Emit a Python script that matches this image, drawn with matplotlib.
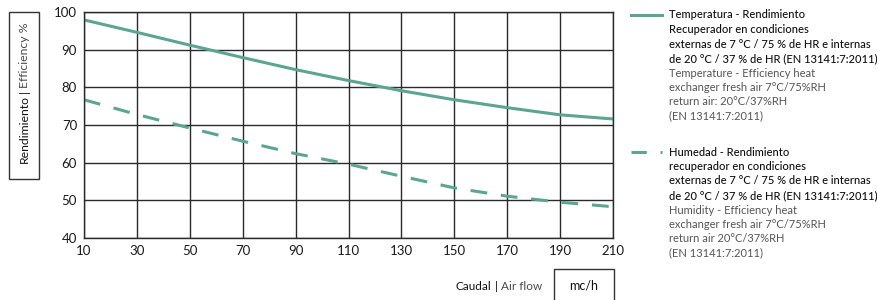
import matplotlib
matplotlib.use('Agg')
import matplotlib.pyplot as plt
from matplotlib.patches import Rectangle
from matplotlib.lines import Line2D

plt.rcParams['font.family'] = ['Lato', 'DejaVu Sans']

# air flow (mc/h) and efficiency values
airflow = [10, 30, 50, 70, 90, 110, 130, 150, 170, 190, 210]
temp_eff = [97.9, 94.6, 91.2, 87.9, 84.7, 81.8, 79.1, 76.7, 74.6, 72.7, 71.6]
hum_eff = [76.7, 72.8, 69.2, 65.7, 62.4, 59.6, 56.4, 53.3, 51.1, 49.5, 48.3]

xticks = [10, 30, 50, 70, 90, 110, 130, 150, 170, 190, 210]
yticks = [40, 50, 60, 70, 80, 90, 100]

teal = '#5ba592'
grid_col = '#2a2a2a'
text_col = '#1a1a1a'
light_col = '#4a4a4a'

W, H = 877, 300
fig = plt.figure(figsize=(W / 100, H / 100), dpi=100)

def fx(px):
    return px / W

def fy(py):
    return 1 - py / H

ax = fig.add_axes([fx(84), fy(238), fx(613) - fx(84), fy(12) - fy(238)])
ax.plot(airflow, temp_eff, color=teal, lw=2.2, solid_capstyle='butt')
ax.plot(airflow, hum_eff, color=teal, lw=2.2, dashes=(5.5, 4.5))
ax.set_xlim(10, 210)
ax.set_ylim(40, 100)
ax.set_xticks(xticks)
ax.set_yticks(yticks)
ax.grid(True, color=grid_col, lw=1)
ax.set_axisbelow(True)
for s in ax.spines.values():
    s.set_color(grid_col)
    s.set_linewidth(1)
ax.tick_params(length=0, labelsize=9.5, colors=text_col, pad=5)

renderer = fig.canvas.get_renderer()

def chain(pieces, start, fixed, vertical, size):
    # place text pieces one after another, measuring each
    pos = start
    for txt, weight, col, gap in pieces:
        if vertical:
            t = fig.text(fx(fixed), fy(pos), txt, rotation=90, ha='center', va='bottom',
                         fontsize=size, fontweight=weight, color=col)
            ext = t.get_window_extent(renderer)
            pos -= ext.height + gap
        else:
            t = fig.text(fx(pos), fy(fixed), txt, ha='left', va='center',
                         fontsize=size, fontweight=weight, color=col)
            ext = t.get_window_extent(renderer)
            pos += ext.width + gap

# y label inside a box
fig.patches.append(Rectangle((fx(9), fy(179)), fx(39) - fx(9), fy(12) - fy(179),
                             transform=fig.transFigure, fill=False,
                             edgecolor='#333333', lw=1))
chain([('Rendimiento', 'normal', '#111111', 2),
       ('|', 'normal', text_col, 2),
       ('Efficiency %', 'normal', light_col, 0)],
      163, 24, True, 8.8)

# x label with unit box
chain([('Caudal', 'normal', '#111111', 3),
       ('|', 'normal', text_col, 3),
       ('Air flow', 'normal', light_col, 0)],
      456, 286, False, 8.5)
fig.patches.append(Rectangle((fx(554), fy(301)), fx(614) - fx(554), fy(269) - fy(301),
                             transform=fig.transFigure, fill=False,
                             edgecolor='#333333', lw=1, clip_on=False))
fig.text(fx(584), fy(286), 'mc/h', ha='center', va='center',
         fontsize=9, fontweight='normal', color='#111111')

# legend
def legend_block(y0, dashed, bold_lines, light_lines):
    ln = Line2D([fx(631), fx(662)], [fy(y0), fy(y0)], transform=fig.transFigure,
                color=teal, lw=2.2)
    if dashed:
        ln.set_dashes((5, 4.5))
    fig.lines.append(ln)
    y = y0
    for t in bold_lines:
        fig.text(fx(669), fy(y), t, ha='left', va='center', fontsize=8,
                 fontweight='medium', color='#111111')
        y += 14.5
    for t in light_lines:
        fig.text(fx(669), fy(y), t, ha='left', va='center', fontsize=8,
                 fontweight='normal', color='#555555')
        y += 14.3

legend_block(15, False,
             ['Temperatura - Rendimiento',
              'Recuperador en condiciones',
              'externas de 7 °C / 75 % de HR e internas',
              'de 20 °C / 37 % de HR (EN 13141:7:2011)'],
             ['Temperature - Efficiency heat',
              'exchanger fresh air 7°C/75%RH',
              'return air: 20°C/37%RH',
              '(EN 13141:7:2011)'])
legend_block(152, True,
             ['Humedad - Rendimiento',
              'recuperador en condiciones',
              'externas de 7 °C / 75 % de HR e internas',
              'de 20 °C / 37 % de HR (EN 13141:7:2011)'],
             ['Humidity - Efficiency heat',
              'exchanger fresh air 7°C/75%RH',
              'return air 20°C/37%RH',
              '(EN 13141:7:2011)'])

fig.savefig('out.png', dpi=100)
